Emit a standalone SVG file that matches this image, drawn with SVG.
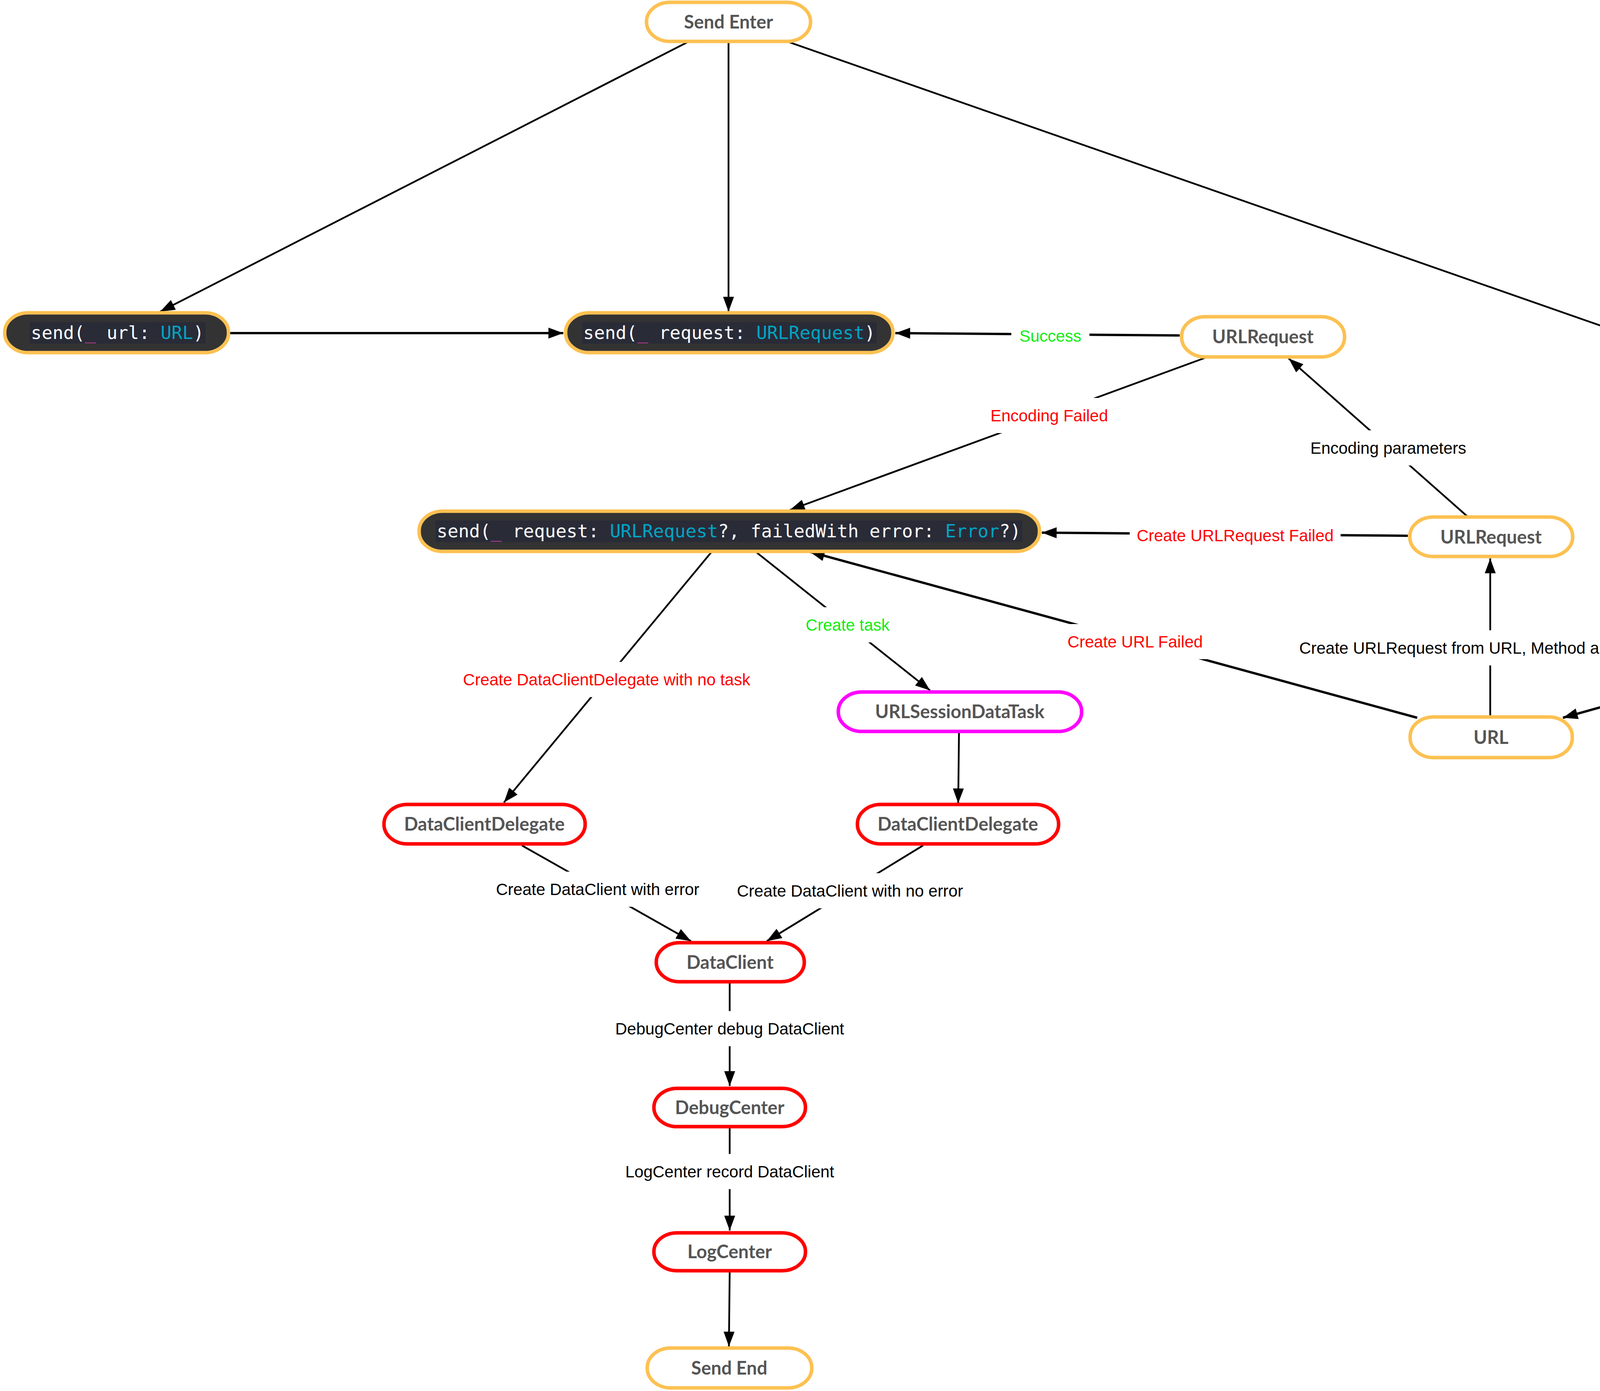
<svg xmlns="http://www.w3.org/2000/svg" width="6179" height="3562" viewBox="0 0 6179 3562">
<style>
.bg{fill:#ffffff}
.n{stroke-width:9}
.ny{fill:#ffffff;stroke:#fcc152}
.nr{fill:#ffffff;stroke:#ff0000}
.nm{fill:#ffffff;stroke:#ff00ff}
.nc{fill:#333333;stroke:#fcc152}
.cb{fill:#292b37}
.nl{font-family:Lato,"Open Sans","Liberation Sans",sans-serif;font-weight:700;font-size:47px;fill:#555555;text-anchor:middle}
.code{font-family:"DejaVu Sans Mono","Liberation Mono",monospace;font-size:46px;fill:#ffffff;white-space:pre}
.u{fill:#c63b9e}
.t{fill:#00a5c5}
.g{fill:#8fc866}
.e{fill:none;stroke:#000000;stroke-width:4.5}
.ek{stroke-width:6}
.lb{fill:#ffffff}
.l{font-family:"Liberation Sans",Arial,sans-serif;font-size:42px;text-anchor:middle;fill:#000000}
.red{fill:#ff0000}
.grn{fill:#11ee11}
</style>
<defs>
<marker id="ah" markerUnits="userSpaceOnUse" markerWidth="40" markerHeight="30" refX="38" refY="14" orient="auto">
<path d="M0,0 L38,14 L0,28 Z" fill="#000000"/>
</marker>
</defs>
<rect class="bg" x="0" y="0" width="6179" height="3562"/>

<g id="connectors">
<line class="e" x1="1760" y1="108" x2="410" y2="798" marker-end="url(#ah)"/>
<line class="e" x1="1865" y1="108" x2="1865" y2="798" marker-end="url(#ah)"/>
<line class="e" x1="2020" y1="108" x2="5489" y2="1320" marker-end="url(#ah)"/>
<line class="e ek" x1="589" y1="853" x2="1442" y2="853" marker-end="url(#ah)"/>
<line class="e ek" x1="3020" y1="859" x2="2292" y2="853" marker-end="url(#ah)"/>
<line class="e" x1="3086" y1="916" x2="2022" y2="1306" marker-end="url(#ah)"/>
<line class="e" x1="3756" y1="1322" x2="3299" y2="918" marker-end="url(#ah)"/>
<line class="e ek" x1="3604" y1="1372" x2="2667" y2="1364" marker-end="url(#ah)"/>
<line class="e ek" x1="3628" y1="1838" x2="2073" y2="1413" marker-end="url(#ah)"/>
<line class="e" x1="3815" y1="1836" x2="3815" y2="1430" marker-end="url(#ah)"/>
<line class="e ek" x1="5472" y1="1428" x2="4001" y2="1838" marker-end="url(#ah)"/>
<line class="e" x1="1821" y1="1414" x2="1290" y2="2055" marker-end="url(#ah)"/>
<line class="e" x1="1936" y1="1414" x2="2381" y2="1768" marker-end="url(#ah)"/>
<line class="e" x1="2455" y1="1876" x2="2453" y2="2057" marker-end="url(#ah)"/>
<line class="e" x1="1336" y1="2165" x2="1769" y2="2410" marker-end="url(#ah)"/>
<line class="e" x1="2363" y1="2165" x2="1963" y2="2410" marker-end="url(#ah)"/>
<line class="e" x1="1868" y1="2516" x2="1868" y2="2781" marker-end="url(#ah)"/>
<line class="e" x1="1868" y1="2889" x2="1868" y2="3151" marker-end="url(#ah)"/>
<line class="e" x1="1868" y1="3258" x2="1866" y2="3448" marker-end="url(#ah)"/>

<rect class="lb" x="2589" y="815" width="200" height="90"/>
<text class="l grn" x="2689" y="875">Success</text>
<rect class="lb" x="2516" y="1019" width="340" height="90"/>
<text class="l red" x="2686" y="1079">Encoding Failed</text>
<rect class="lb" x="3334" y="1102" width="440" height="90"/>
<text class="l" x="3554" y="1162">Encoding parameters</text>
<rect class="lb" x="2892" y="1326" width="540" height="90"/>
<text class="l red" x="3162" y="1386">Create URLRequest Failed</text>
<rect class="lb" x="2714" y="1598" width="385" height="90"/>
<text class="l red" x="2906" y="1658">Create URL Failed</text>
<rect class="lb" x="3312" y="1614" width="1005" height="90"/>
<text class="l" x="3815" y="1674">Create URLRequest from URL, Method and headers</text>
<rect class="lb" x="4457" y="1580" width="630" height="90"/>
<text class="l" x="4772" y="1640">Create URL from host and path</text>
<rect class="lb" x="1166" y="1695" width="775" height="90"/>
<text class="l red" x="1553" y="1755">Create DataClientDelegate with no task</text>
<rect class="lb" x="2043" y="1555" width="255" height="90"/>
<text class="l grn" x="2170" y="1615">Create task</text>
<rect class="lb" x="1250" y="2232" width="560" height="90"/>
<text class="l" x="1530" y="2292">Create DataClient with error</text>
<rect class="lb" x="1866" y="2236" width="620" height="90"/>
<text class="l" x="2176" y="2296">Create DataClient with no error</text>
<rect class="lb" x="1555" y="2589" width="626" height="90"/>
<text class="l" x="1868" y="2649">DebugCenter debug DataClient</text>
<rect class="lb" x="1580" y="2955" width="575" height="90"/>
<text class="l" x="1868" y="3015">LogCenter record DataClient</text>
</g>

<g id="send-enter">
<rect class="n ny" x="1655" y="6" width="420" height="100" rx="60" ry="50"/>
<text class="nl" x="1865" y="73">Send Enter</text>
</g>

<g id="send-url">
<rect class="n nc" x="12" y="801" width="573" height="102" rx="60" ry="50"/>
<rect class="cb" x="76" y="825" width="450" height="55"/>
<text class="code" x="79" y="868">send(<tspan class="u">_</tspan> url: <tspan class="t">URL</tspan>)</text>
</g>

<g id="send-request">
<rect class="n nc" x="1448" y="801" width="838" height="102" rx="60" ry="50"/>
<rect class="cb" x="1490" y="825" width="754" height="55"/>
<text class="code" x="1493" y="868">send(<tspan class="u">_</tspan> request: <tspan class="t">URLRequest</tspan>)</text>
</g>

<g id="urlrequest-top">
<rect class="n ny" x="3025" y="811" width="417" height="103" rx="60" ry="50"/>
<text class="nl" x="3233" y="879">URLRequest</text>
</g>

<g id="send-failed">
<rect class="n nc" x="1073" y="1309" width="1588" height="103" rx="60" ry="50"/>
<rect class="cb" x="1115" y="1333" width="1502" height="55"/>
<text class="code" x="1118" y="1376">send(<tspan class="u">_</tspan> request: <tspan class="t">URLRequest</tspan>?, failedWith error: <tspan class="t">Error</tspan>?)</text>
</g>

<g id="urlrequest-mid">
<rect class="n ny" x="3609" y="1324" width="417" height="101" rx="60" ry="50"/>
<text class="nl" x="3817" y="1392">URLRequest</text>
</g>

<g id="send-router">
<rect class="n nc" x="5162" y="1322" width="1011" height="104" rx="60" ry="50"/>
<rect class="cb" x="5209" y="1347" width="920" height="55"/>
<text class="code" x="5212" y="1390">send(<tspan class="u">_</tspan> router: <tspan class="g">RequestConversion</tspan>)</text>
</g>

<g id="url">
<rect class="n ny" x="3610" y="1836" width="415" height="104" rx="60" ry="50"/>
<text class="nl" x="3817" y="1905">URL</text>
</g>

<g id="urlsessiondatatask">
<rect class="n nm" x="2146" y="1772" width="623" height="101" rx="60" ry="50"/>
<text class="nl" x="2457" y="1839">URLSessionDataTask</text>
</g>

<g id="dcd-left">
<rect class="n nr" x="983" y="2060" width="515" height="101" rx="60" ry="50"/>
<text class="nl" x="1240" y="2127">DataClientDelegate</text>
</g>

<g id="dcd-right">
<rect class="n nr" x="2195" y="2060" width="515" height="101" rx="60" ry="50"/>
<text class="nl" x="2452" y="2127">DataClientDelegate</text>
</g>

<g id="dataclient">
<rect class="n nr" x="1680" y="2414" width="379" height="100" rx="60" ry="50"/>
<text class="nl" x="1869" y="2481">DataClient</text>
</g>

<g id="debugcenter">
<rect class="n nr" x="1674" y="2787" width="388" height="98" rx="60" ry="49"/>
<text class="nl" x="1868" y="2853">DebugCenter</text>
</g>

<g id="logcenter">
<rect class="n nr" x="1674" y="3157" width="388" height="97" rx="60" ry="48"/>
<text class="nl" x="1868" y="3222">LogCenter</text>
</g>

<g id="send-end">
<rect class="n ny" x="1657" y="3452" width="421" height="102" rx="60" ry="50"/>
<text class="nl" x="1867" y="3520">Send End</text>
</g>
</svg>
